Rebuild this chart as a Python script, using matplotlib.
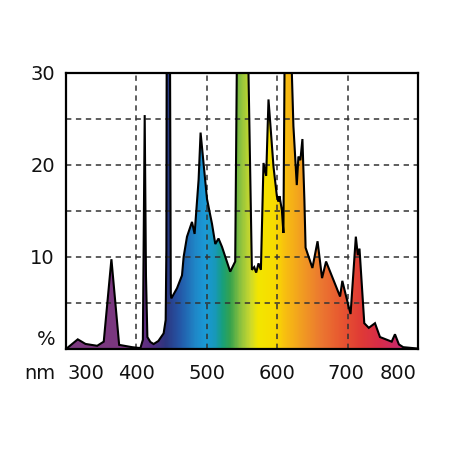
import numpy as np
import matplotlib
matplotlib.use("Agg")
from matplotlib import pyplot as plt
from matplotlib.colors import LinearSegmentedColormap
from matplotlib.patches import Polygon

# spectrum: wavelength (nm) and relative intensity (%)
wavelength = [300, 316.7, 327.7, 344.3, 353.6, 364.5, 375.5, 393.9, 405.7, 409.2,
              411.8, 413.6, 415.6, 419.9, 424.5, 431.2, 438.7, 441.6, 442.6, 443.2,
              447.4, 448.9, 449.6, 457.7, 464.8, 467.1, 471.9, 479.0, 482.7, 488.4,
              491.2, 500.3, 507.4, 512.1, 516.7, 521.6, 533.3, 540.4, 543.7, 557.0,
              564.1, 567.4, 570.2, 573.5, 576.9, 580.6, 584.4, 587.7, 594.8, 599.6,
              601.8, 603.3, 606.7, 608.9, 611.3, 617.0, 623.1, 627.9, 630.2, 633.0,
              635.9, 638.7, 640.4, 650.1, 657.4, 663.8, 669.5, 689.4, 692.6, 697.4,
              704.3, 711.8, 714.6, 717.0, 723.8, 730.2, 739.0, 746.1, 762.7, 767.4,
              773.0, 779.1, 800]
intensity = [0.0, 1.05, 0.55, 0.35, 0.8, 9.75, 0.45, 0.2, 0.1, 1.0,
             25.4, 8.0, 1.3, 0.76, 0.54, 0.87, 1.7, 3.15, 10.8, 40,
             40, 6.0, 5.5, 6.6, 8.0, 10.0, 12.2, 13.8, 12.5, 18.4,
             23.5, 16.3, 13.6, 11.4, 12.0, 11.1, 8.4, 9.5, 40, 40,
             8.6, 8.9, 8.3, 9.3, 8.6, 20.2, 18.8, 27.1, 19.8, 16.6,
             16.0, 16.6, 15.1, 12.6, 40, 40, 24.2, 17.8, 20.9, 20.5,
             22.8, 16.2, 11.0, 8.8, 11.7, 7.7, 9.5, 5.7, 7.4, 5.9,
             3.8, 12.2, 10.2, 10.9, 2.8, 2.3, 2.8, 1.3, 0.8, 1.6,
             0.5, 0.2, 0.05]

y_ticks = [10, 20, 30]
x_tick_labels = ["300", "400", "500", "600", "700", "800"]

# colour stops of the rainbow fill (nm, colour)
stops = [(300, "#7d3a7f"), (391, "#7a3780"), (420, "#562c80"), (441, "#2c3680"),
         (462, "#2458a8"), (484, "#1f88c8"), (498, "#1a9ad6"), (512, "#1898b8"),
         (522, "#17a07c"), (533, "#35a24e"), (547, "#88c040"), (562, "#cbd92e"),
         (573, "#f3e600"), (597, "#f8dc00"), (611, "#f8c010"), (633, "#f2a020"),
         (661, "#ec7a30"), (689, "#e85a30"), (718, "#e03c35"), (746, "#d82c48"),
         (775, "#c82a6a"), (800, "#c42a70")]
lo, hi = 300, 800
cmap = LinearSegmentedColormap.from_list(
    "spec", [((w - lo) / (hi - lo), c) for w, c in stops])

fig = plt.figure(figsize=(4.5, 4.5), dpi=100)
ax = fig.add_axes([0.1467, 0.2244, 0.782, 0.614])

grad = np.linspace(0, 1, 600).reshape(1, -1)
img = ax.imshow(grad, extent=[lo, hi, 0, 30], aspect="auto", cmap=cmap,
                origin="lower", zorder=1)
verts = list(zip(wavelength, intensity)) + [(800, 0), (300, 0)]
poly = Polygon(verts, closed=True, facecolor="none", edgecolor="none")
ax.add_patch(poly)
img.set_clip_path(poly)

dash = dict(color="#333333", lw=1.1, dashes=(3.5, 3), zorder=2)
for x in [400, 500, 600, 700]:
    ax.axvline(x, **dash)
for y in [5, 10, 15, 20, 25]:
    ax.axhline(y, **dash)

ax.plot(wavelength, intensity, color="black", lw=1.5, zorder=3,
        solid_joinstyle="miter")

ax.set_xlim(lo, hi)
ax.set_ylim(0, 30)
ax.set_yticks(y_ticks)
ax.set_yticklabels([str(v) for v in y_ticks])
ax.set_xticks([328, 400, 500, 600, 698, 772])
ax.set_xticklabels(x_tick_labels)
ax.tick_params(length=0, labelsize=14, colors="#111111")
ax.tick_params(axis="x", pad=11)
ax.tick_params(axis="y", pad=8)
for s in ax.spines.values():
    s.set_linewidth(1.6)
    s.set_zorder(4)

ax.text(-0.03, 0.033, "%", transform=ax.transAxes, ha="right", va="center",
        fontsize=14, color="#111111")
ax.text(-0.03, -0.088, "nm", transform=ax.transAxes, ha="right", va="center",
        fontsize=14, color="#111111")

fig.savefig("out.png", dpi=100)
